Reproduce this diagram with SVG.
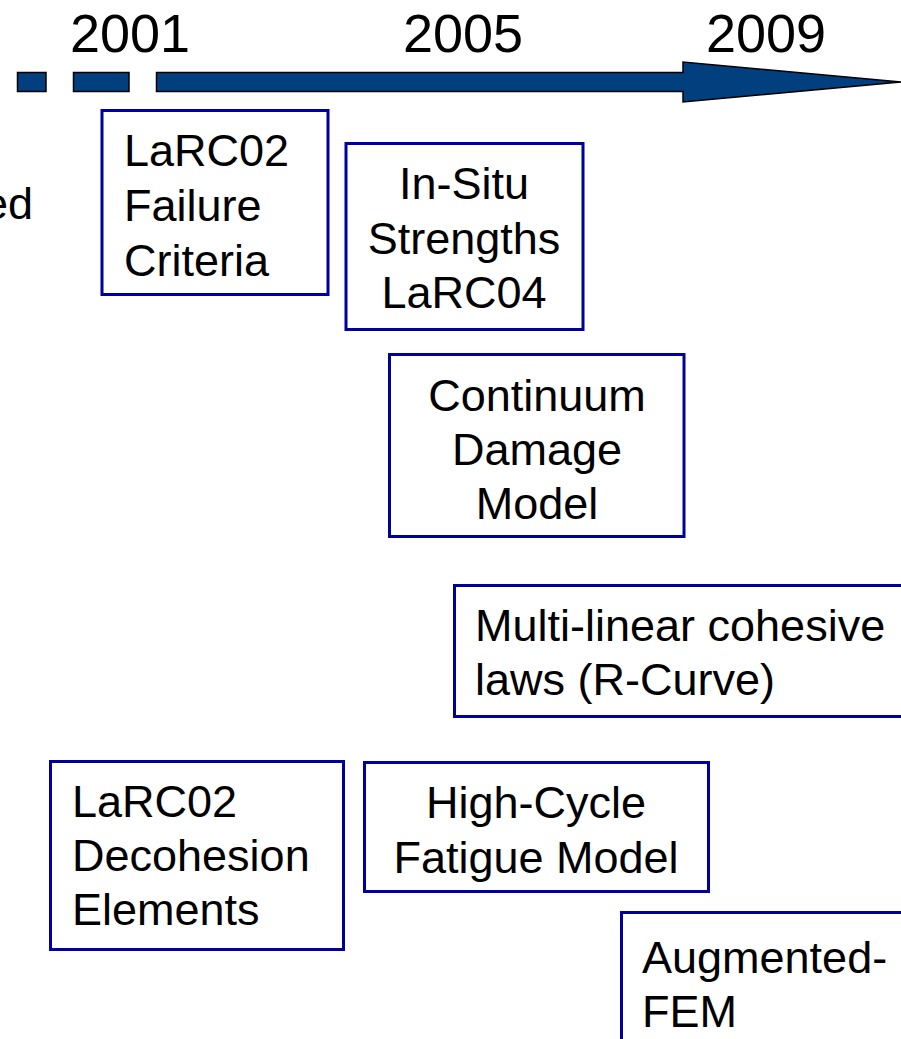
<svg xmlns="http://www.w3.org/2000/svg" width="901" height="1039" viewBox="0 0 901 1039">
  <style>
    .yr { font-family: "Liberation Sans", Arial, sans-serif; font-size: 54px; fill: #000; text-anchor: middle; }
    .t { font-family: "Liberation Sans", Arial, sans-serif; font-size: 45px; fill: #000; }
    .c { text-anchor: middle; }
    .box { fill: #fff; stroke: #0000a0; stroke-width: 3; }
    .arrow { fill: #023f7f; stroke: #000; stroke-width: 1.5; stroke-linejoin: miter; }
  </style>
  <rect width="901" height="1039" fill="#fff"/>

  <!-- timeline years -->
  <g id="years">
    <text class="yr" x="130" y="52">2001</text>
    <text class="yr" x="463" y="52">2005</text>
    <text class="yr" x="766" y="52">2009</text>
  </g>

  <!-- timeline arrow -->
  <g id="connectors">
    <rect class="arrow" x="17.5" y="72.5" width="28.5" height="19"/>
    <rect class="arrow" x="73.5" y="72.5" width="55.5" height="19"/>
    <path class="arrow" d="M156.5,72.5 H683 V62 L901,82 L683,102 V91.5 H156.5 Z"/>
  </g>

  <text class="t" x="33" y="219" text-anchor="end">ed</text>

  <g id="larc02-failure">
    <rect class="box" x="102" y="110.5" width="226" height="184"/>
    <text class="t" x="124" y="166">LaRC02</text>
    <text class="t" x="124" y="221">Failure</text>
    <text class="t" x="124" y="276">Criteria</text>
  </g>

  <g id="in-situ">
    <rect class="box" x="346" y="143.5" width="237" height="186"/>
    <text class="t c" x="464" y="199">In-Situ</text>
    <text class="t c" x="464" y="254">Strengths</text>
    <text class="t c" x="464" y="308">LaRC04</text>
  </g>

  <g id="continuum-damage">
    <rect class="box" x="389.5" y="354.5" width="294.5" height="182"/>
    <text class="t c" x="537" y="411">Continuum</text>
    <text class="t c" x="537" y="465">Damage</text>
    <text class="t c" x="537" y="519">Model</text>
  </g>

  <g id="cohesive-laws">
    <rect class="box" x="454.5" y="585.5" width="460" height="131"/>
    <text class="t" x="475" y="641">Multi-linear cohesive</text>
    <text class="t" x="475" y="695">laws (R-Curve)</text>
  </g>

  <g id="larc02-decohesion">
    <rect class="box" x="50.5" y="761.5" width="293" height="188"/>
    <text class="t" x="72" y="817">LaRC02</text>
    <text class="t" x="72" y="871">Decohesion</text>
    <text class="t" x="72" y="925">Elements</text>
  </g>

  <g id="high-cycle-fatigue">
    <rect class="box" x="364.5" y="762.5" width="344" height="129"/>
    <text class="t c" x="536" y="818">High-Cycle</text>
    <text class="t c" x="536" y="873">Fatigue Model</text>
  </g>

  <g id="augmented-fem">
    <rect class="box" x="621.5" y="912.5" width="300" height="150"/>
    <text class="t" x="642" y="973">Augmented-</text>
    <text class="t" x="642" y="1027">FEM</text>
  </g>
</svg>
